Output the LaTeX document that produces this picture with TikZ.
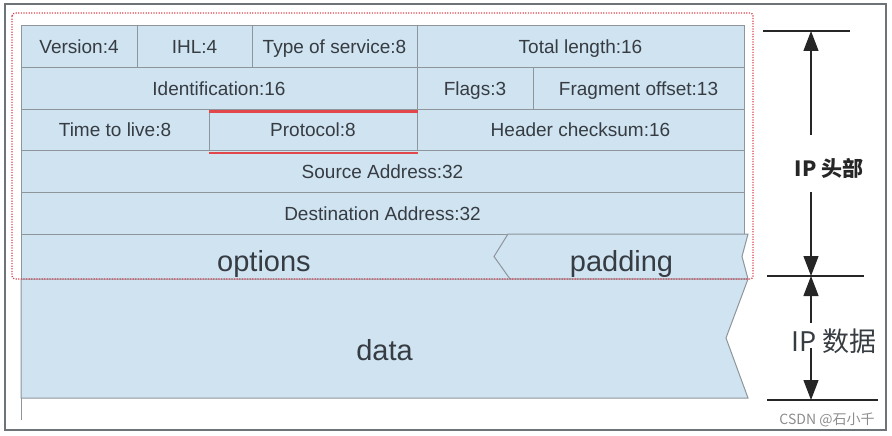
\documentclass[tikz,border=0pt]{standalone}
\usepackage{fontspec}
\setmainfont{Liberation Sans}
\newfontfamily\cjk{Noto Sans CJK SC}
\usetikzlibrary{arrows.meta}

\definecolor{cellblue}{HTML}{CFE3F1}
\definecolor{linegray}{HTML}{8E959B}
\definecolor{framegray}{HTML}{6E7378}
\definecolor{textgray}{HTML}{363C42}
\definecolor{dotred}{HTML}{DC4655}
\definecolor{markred}{HTML}{E2474B}

\tikzset{
	cell/.style={draw=linegray, fill=cellblue, line width=1pt, inner sep=0pt,
		minimum height=41.6pt, text height=13.6pt, text depth=0pt,
		text=textgray, font=\fontsize{19}{22}\selectfont},
	biglabel/.style={inner sep=0pt, text height=15pt, text depth=0pt,
		text=textgray, font=\fontsize{29}{32}\selectfont},
	shapeline/.style={draw=linegray, fill=cellblue, line width=1pt},
	tick/.style={line width=1.2pt, black!85},
	dimline/.style={line width=1.2pt, black!85, -{Triangle[length=20pt,width=15pt]}},
}

\begin{document}
\begin{tikzpicture}[x=1pt, y=-1pt]
	\useasboundingbox (0,0) rectangle (892,436);
	\draw[framegray, line width=1.2pt] (5,4) rectangle (886,430);

	% header rows
	\begin{scope}[every node/.append style={cell}]
		\node[minimum width=116pt] (version) at (79, 46.8) {Version:4};
		\node[minimum width=115pt] (ihl) at (194.5, 46.8) {IHL:4};
		\node[minimum width=165pt] (tos) at (334.5, 46.8) {Type of service:8};
		\node[minimum width=327pt] (totlen) at (580.5, 46.8) {Total length:16};

		\node[minimum width=396pt] (ident) at (219, 88.4) {Identification:16};
		\node[minimum width=116pt] (flags) at (475, 88.4) {Flags:3};
		\node[minimum width=211pt] (fragoff) at (638.5, 88.4) {Fragment offset:13};

		\node[minimum width=188pt] (ttl) at (115, 130) {Time to live:8};
		\node[minimum width=208pt] (proto) at (313, 130) {Protocol:8};
		\node[minimum width=327pt] (cksum) at (580.5, 130) {Header checksum:16};

		\node[minimum width=723pt] (src) at (382.5, 171.6) {Source Address:32};
		\node[minimum width=723pt] (dst) at (382.5, 213.2) {Destination Address:32};

		\node[minimum width=488pt, minimum height=45pt] (options) at (265, 256.5) {};
	\end{scope}

	\draw[shapeline] (508,234) -- (494,256.5) -- (510,279) -- (748,279) -- (742,256.5) -- (748,234) -- cycle;
	\draw[shapeline] (21,279) -- (748,279) -- (726,338) -- (748,398) -- (21,398) -- cycle;
	\draw[linegray, line width=1pt] (21,398) -- (21,420);

	\node[biglabel] (optlbl) at (264, 263.5) {options};
	\node[biglabel] (padlbl) at (621.5, 264) {padding};
	\node[biglabel] (datalbl) at (384.5, 352.5) {data};

	\draw[markred, line width=2.6pt] ([yshift=-2.5pt]proto.north west) -- ([yshift=-2.5pt]proto.north east);
	\draw[markred, line width=2.6pt] ([yshift=-1.5pt]proto.south west) -- ([yshift=-1.5pt]proto.south east);
	\draw[dotred, line width=1.3pt, dash pattern=on 1.2pt off 1.4pt, rounded corners=3pt] (12,13) rectangle (753,279);

	% size marks
	\coordinate (hdtop) at (811,31);
	\coordinate (hdgapA) at (811,135);
	\coordinate (hdgapB) at (811,192);
	\coordinate (split) at (811,276);
	\coordinate (dtgapA) at (811,323);
	\coordinate (dtgapB) at (811,348);
	\coordinate (dtbot) at (811,400);

	\draw[tick] (763,31) -- (850,31);
	\draw[tick] (767,276) -- (864,276);
	\draw[tick] (767,400) -- (878,400);

	\draw[dimline] (hdgapA) -- (hdtop);
	\draw[dimline] (hdgapB) -- (split);
	\draw[dimline] (dtgapA) -- (split);
	\draw[dimline] (dtgapB) -- (dtbot);

	\node[inner sep=0pt, text=black!85, font={\cjk\bfseries\fontsize{21}{24}\selectfont}] (hdlbl) at (829,168) {IP 头部};
	\node[inner sep=0pt, text=textgray, font={\cjk\fontsize{27}{30}\selectfont}] (dtlbl) at (834,341) {IP 数据};
	\node[inner sep=0pt, text=black!45, font={\cjk\fontsize{14}{16}\selectfont}] (mark) at (827,420) {CSDN @石小千};
\end{tikzpicture}
\end{document}
